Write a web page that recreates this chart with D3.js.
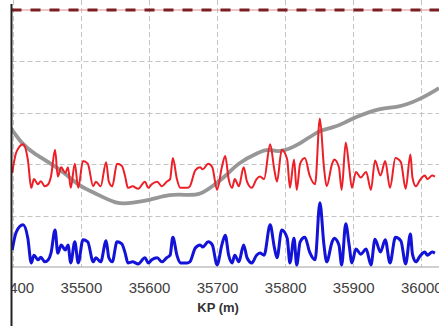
<!DOCTYPE html>
<html>
<head>
<meta charset="utf-8">
<script src="https://cdn.jsdelivr.net/npm/d3@7"></script>
<style>
  html, body { margin: 0; padding: 0; background: #fff; }
  svg { display: block; }
</style>
</head>
<body>
<div id="chart"></div>
<script>
// KP positions (m) of the sampled trace points
const kp = [35399, 35405, 35415, 35422, 35427, 35431, 35437, 35441, 35447, 35452,
  35456, 35462, 35466, 35471, 35477, 35481, 35485, 35491, 35496, 35503,
  35510, 35518, 35522, 35529, 35537, 35541, 35546, 35553, 35560, 35565,
  35569, 35576, 35584, 35594, 35599, 35604, 35612, 35619, 35626, 35631,
  35635, 35641, 35646, 35656, 35660, 35668, 35675, 35679, 35687, 35693,
  35700, 35707, 35712, 35717, 35722, 35726, 35732, 35739, 35744, 35751,
  35758, 35763, 35769, 35778, 35784, 35788, 35795, 35803, 35807, 35813,
  35817, 35822, 35829, 35836, 35844, 35851, 35857, 35861, 35869, 35872,
  35879, 35883, 35889, 35894, 35898, 35904, 35911, 35919, 35926, 35932,
  35940, 35947, 35954, 35962, 35970, 35977, 35984, 35987, 35992, 35998,
  36005, 36009, 36016, 36020];

const blueValues = [0.33, 0.68, 0.82, 0.56, 0.08, 0.23, 0.14, 0.19, 0.10, 0.14,
  0.27, 0.72, 0.27, 0.43, 0.33, 0.43, 0.08, 0.49, 0.08, 0.53,
  0.49, 0.10, 0.18, 0.10, 0.51, 0.18, 0.10, 0.49, 0.45, 0.27,
  0.08, 0.10, 0.06, 0.18, 0.08, 0.14, 0.18, 0.10, 0.18, 0.23,
  0.58, 0.23, 0.08, 0.08, 0.10, 0.37, 0.43, 0.39, 0.49, 0.43,
  0.04, 0.43, 0.62, 0.23, 0.08, 0.23, 0.10, 0.43, 0.18, 0.08,
  0.23, 0.27, 0.23, 0.82, 0.39, 0.18, 0.72, 0.56, 0.08, 0.56,
  0.04, 0.49, 0.58, 0.29, 0.14, 1.25, 0.43, 0.10, 0.49, 0.56,
  0.43, 0.04, 0.84, 0.43, 0.08, 0.35, 0.25, 0.35, 0.04, 0.54,
  0.29, 0.53, 0.08, 0.58, 0.51, 0.06, 0.64, 0.25, 0.10, 0.21,
  0.29, 0.23, 0.29, 0.27];

const redValues = [1.83, 2.23, 2.39, 2.09, 1.54, 1.71, 1.61, 1.67, 1.57, 1.61,
  1.76, 2.28, 1.76, 1.94, 1.83, 1.94, 1.54, 2.01, 1.54, 2.06,
  2.01, 1.57, 1.66, 1.57, 2.04, 1.66, 1.57, 2.01, 1.97, 1.76,
  1.54, 1.57, 1.52, 1.66, 1.54, 1.61, 1.66, 1.57, 1.66, 1.71,
  2.12, 1.71, 1.54, 1.54, 1.57, 1.88, 1.94, 1.90, 2.01, 1.94,
  1.50, 1.94, 2.16, 1.71, 1.54, 1.71, 1.57, 1.94, 1.66, 1.54,
  1.71, 1.76, 1.71, 2.39, 1.90, 1.66, 2.28, 2.09, 1.54, 2.09,
  1.50, 2.01, 2.12, 1.78, 1.61, 2.89, 1.94, 1.57, 2.01, 2.09,
  1.94, 1.50, 2.42, 1.94, 1.54, 1.85, 1.74, 1.85, 1.50, 2.07,
  1.78, 2.06, 1.54, 2.12, 2.04, 1.52, 2.19, 1.74, 1.57, 1.69,
  1.78, 1.71, 1.78, 1.76];

// grey profile
const greyKP = [35397, 35415, 35430, 35455, 35480, 35499, 35518, 35553, 35576, 35601,
  35631, 35656, 35675, 35694, 35713, 35730, 35762, 35777, 35791, 35820,
  35850, 35869, 35890, 35900, 35943, 35963, 35997, 36026];
const greyValues = [2.70, 2.37, 2.22, 2.02, 1.79, 1.56, 1.46, 1.21, 1.25, 1.30,
  1.42, 1.40, 1.40, 1.58, 1.77, 2.02, 2.24, 2.30, 2.22, 2.37,
  2.67, 2.70, 2.82, 2.90, 3.11, 3.09, 3.25, 3.48];

const xTicks = [35400, 35500, 35600, 35700, 35800, 35900, 36000];
const yGrid = [1, 2, 3, 4];
const limitValue = 5;
const xLabel = "KP (m)";

const W = 439, H = 326;

const x = d3.scaleLinear().domain([35398, 36026]).range([11.5, 439]);
const y = d3.scaleLinear().domain([0, 5]).range([267, 10]);

const svg = d3.select("#chart").append("svg")
  .attr("width", W)
  .attr("height", H);

svg.append("rect").attr("width", W).attr("height", H).attr("fill", "#fff");

////////////////////////////////////////////////////////////////////////////////////
// grid

const grid = svg.append("g").attr("stroke", "#c4c4c4").attr("stroke-width", 1)
  .attr("stroke-dasharray", "5,3");

grid.selectAll(".vgrid")
  .data(xTicks)
  .enter()
  .append("line")
  .attr("x1", d => Math.round(x(d)) + 0.5)
  .attr("x2", d => Math.round(x(d)) + 0.5)
  .attr("y1", 0)
  .attr("y2", y(0));

grid.selectAll(".hgrid")
  .data(yGrid)
  .enter()
  .append("line")
  .attr("x1", 11.5)
  .attr("x2", W)
  .attr("y1", d => Math.round(y(d)) + 0.5)
  .attr("y2", d => Math.round(y(d)) + 0.5);

// baseline
svg.append("line")
  .attr("x1", 11.5).attr("x2", W)
  .attr("y1", y(0)).attr("y2", y(0))
  .attr("stroke", "#a0a0a0")
  .attr("stroke-width", 1);

// limit line at top
svg.append("line")
  .attr("x1", 11.5).attr("x2", W)
  .attr("y1", y(limitValue)).attr("y2", y(limitValue))
  .attr("stroke", "#e08a8a")
  .attr("stroke-width", 1);
svg.append("line")
  .attr("x1", 11.5).attr("x2", W)
  .attr("y1", y(limitValue)).attr("y2", y(limitValue))
  .attr("stroke", "#7a1e22")
  .attr("stroke-width", 3)
  .attr("stroke-dasharray", "10,9");

////////////////////////////////////////////////////////////////////////////////////
// series

const greyData = greyKP.map((k, i) => ({ k: k, v: greyValues[i] }));
const redData = kp.map((k, i) => ({ k: k, v: redValues[i] }));
const blueData = kp.map((k, i) => ({ k: k, v: blueValues[i] }));

const smooth = d3.line()
  .x(d => x(d.k))
  .y(d => y(d.v))
  .curve(d3.curveMonotoneX);

const soft = d3.line()
  .x(d => x(d.k))
  .y(d => y(d.v))
  .curve(d3.curveBasis);

svg.append("path")
  .datum(greyData)
  .attr("d", soft)
  .attr("fill", "none")
  .attr("stroke", "#979797")
  .attr("stroke-width", 3.8)
  .attr("stroke-linejoin", "round");

svg.append("path")
  .datum(redData)
  .attr("d", smooth)
  .attr("fill", "none")
  .attr("stroke", "#ec1f27")
  .attr("stroke-width", 2)
  .attr("stroke-linejoin", "round");

svg.append("path")
  .datum(blueData)
  .attr("d", smooth)
  .attr("fill", "none")
  .attr("stroke", "#1212d8")
  .attr("stroke-width", 3)
  .attr("stroke-linejoin", "round");

////////////////////////////////////////////////////////////////////////////////////
// axis labels

const xAxis = svg.append("g")
  .attr("transform", `translate(0,${y(0)})`)
  .call(d3.axisBottom(x).tickValues(xTicks).tickSize(0).tickFormat(d3.format("d")));

xAxis.select(".domain").remove();
xAxis.selectAll("text")
  .attr("y", 26)
  .attr("dy", 0)
  .attr("fill", "#404040")
  .style("font-family", "'Liberation Sans', Arial, sans-serif")
  .style("font-size", "15px");

svg.append("text")
  .attr("x", x(35700) + 1)
  .attr("y", 312)
  .attr("text-anchor", "middle")
  .attr("fill", "#333")
  .style("font-family", "'Liberation Sans', Arial, sans-serif")
  .style("font-size", "13px")
  .style("font-weight", "bold")
  .text(xLabel);

// left edge of the panel
svg.append("rect").attr("x", 0).attr("y", 0).attr("width", 11).attr("height", H).attr("fill", "#fff");
svg.append("line")
  .attr("x1", 11.5).attr("x2", 11.5)
  .attr("y1", 4).attr("y2", H)
  .attr("stroke", "#222")
  .attr("stroke-width", 2);
</script>
</body>
</html>
